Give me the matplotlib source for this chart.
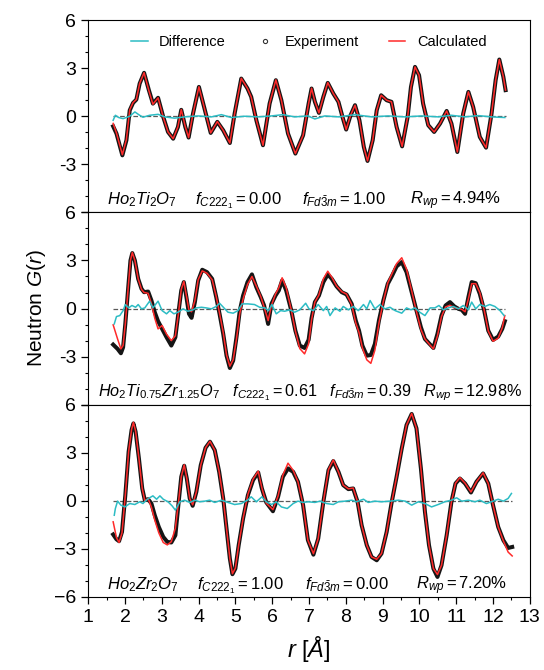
import numpy as np
import matplotlib
matplotlib.use("Agg")
import matplotlib.pyplot as plt
from matplotlib.lines import Line2D
from matplotlib.ticker import MultipleLocator

plt.rcParams['font.family'] = ['Liberation Sans', 'DejaVu Sans']
plt.rcParams['mathtext.fontset'] = 'custom'
plt.rcParams['mathtext.rm'] = 'Liberation Sans'
plt.rcParams['mathtext.it'] = 'Liberation Sans:italic'
plt.rcParams['mathtext.bf'] = 'Liberation Sans:bold'

# --- Ho2Ti2O7 (top) ---
r_top = [1.68, 1.77, 1.93, 2.04, 2.13, 2.22, 2.31, 2.40, 2.52, 2.65,
         2.76, 2.90, 3.04, 3.17, 3.31, 3.44, 3.53, 3.64, 3.73, 3.85,
         4.01, 4.15, 4.33, 4.51, 4.67, 4.85, 4.98, 5.16, 5.33, 5.43,
         5.57, 5.75, 5.93, 6.10, 6.25, 6.43, 6.63, 6.84, 6.99, 7.07,
         7.16, 7.27, 7.39, 7.51, 7.66, 7.80, 7.91, 8.01, 8.13, 8.25,
         8.37, 8.49, 8.59, 8.73, 8.84, 8.96, 9.11, 9.24, 9.38, 9.53,
         9.68, 9.77, 9.88, 9.99, 10.10, 10.24, 10.40, 10.56, 10.74, 10.87,
         11.03, 11.19, 11.33, 11.46, 11.64, 11.81, 11.96, 12.07, 12.17, 12.28,
         12.34]
g_exp_top = [-0.63, -1.08, -2.44, -1.50, 0.37, 0.83, 1.04, 2.04, 2.71, 1.63,
             0.79, 1.15, -0.04, -0.98, -1.40, -0.67, 0.40, -0.67, -1.33, 0.17,
             1.83, 0.58, -1.04, -0.35, -0.88, -1.67, 0.17, 2.35, 1.73, 1.21,
             -0.25, -1.81, 0.79, 2.25, 1.00, -1.08, -2.33, -1.19, 0.79, 1.73,
             0.90, 0.21, 1.21, 2.08, 1.42, 0.90, -0.04, -0.83, 0.06, 0.69,
             -0.25, -1.92, -2.79, -1.50, 0.37, 1.31, 1.00, 0.90, -0.67, -1.88,
             -0.04, 1.83, 3.08, 2.56, 0.79, -0.56, -0.98, -0.46, 0.33, -0.46,
             -2.23, 0.17, 1.52, 0.58, -1.29, -1.96, 0.17, 2.25, 3.54, 2.46,
             1.63]
g_calc_top = [-0.45, -1.05, -2.40, -1.45, 0.40, 0.85, 1.05, 2.05, 2.72, 1.60,
              0.75, 1.15, -0.05, -0.98, -1.40, -0.65, 0.42, -0.66, -1.33, 0.17,
              1.84, 0.58, -1.04, -0.33, -0.88, -1.67, 0.17, 2.37, 1.73, 1.20,
              -0.25, -1.81, 0.79, 2.27, 1.00, -1.08, -2.33, -1.19, 0.79, 1.75,
              0.92, 0.21, 1.21, 2.10, 1.42, 0.90, -0.04, -0.83, 0.06, 0.69,
              -0.25, -1.92, -2.79, -1.50, 0.37, 1.31, 1.00, 0.90, -0.67, -1.88,
              -0.04, 1.83, 3.08, 2.56, 0.79, -0.56, -0.98, -0.46, 0.33, -0.46,
              -2.23, 0.17, 1.52, 0.58, -1.29, -1.96, 0.17, 2.25, 3.54, 2.46,
              1.63]
r_diff_top = [1.68, 1.74, 1.83, 1.95, 2.13, 2.27, 2.40, 2.49, 2.67, 2.90,
              3.08, 3.35, 3.62, 3.99, 4.35, 4.62, 4.89, 5.25, 5.62, 5.98,
              6.29, 6.61, 6.97, 7.07, 7.16, 7.43, 7.80, 8.25, 8.70, 9.15,
              9.61, 10.06, 10.51, 10.87, 11.24, 11.60, 11.96, 12.32]
g_diff_top = [-0.25, 0.06, -0.08, -0.15, 0.00, 0.27, 0.06, -0.06, 0.06, 0.12,
              -0.04, -0.12, -0.04, 0.02, -0.04, 0.10, -0.08, 0.00, -0.04, 0.02,
              0.10, -0.04, 0.02, -0.08, -0.17, 0.02, -0.04, 0.10, -0.04, 0.02,
              -0.04, 0.02, -0.04, 0.06, -0.04, 0.04, -0.04, -0.08]

# --- Ho2Ti0.75Zr1.25O7 (middle) ---
r_mid = [1.68, 1.80, 1.89, 1.95, 2.01, 2.09, 2.15, 2.20, 2.27, 2.36,
         2.45, 2.52, 2.63, 2.72, 2.81, 2.90, 3.01, 3.13, 3.26, 3.37,
         3.46, 3.53, 3.60, 3.67, 3.74, 3.81, 3.90, 3.99, 4.10, 4.23,
         4.37, 4.48, 4.57, 4.67, 4.76, 4.85, 4.94, 5.03, 5.12, 5.21,
         5.33, 5.45, 5.57, 5.69, 5.78, 5.89, 5.98, 6.09, 6.18, 6.27,
         6.38, 6.52, 6.63, 6.75, 6.88, 6.99, 7.07, 7.16, 7.27, 7.39,
         7.51, 7.62, 7.75, 7.89, 8.02, 8.16, 8.27, 8.36, 8.45, 8.57,
         8.68, 8.79, 8.90, 9.02, 9.14, 9.26, 9.38, 9.52, 9.65, 9.79,
         9.92, 10.04, 10.15, 10.26, 10.38, 10.49, 10.60, 10.71, 10.83, 10.95,
         11.06, 11.15, 11.24, 11.33, 11.42, 11.53, 11.64, 11.76, 11.87, 12.00,
         12.14, 12.25, 12.32]
g_exp_mid = [-2.25, -2.52, -2.79, -2.42, -0.96, 1.33, 3.00, 3.46, 3.00, 1.85,
             1.23, 1.02, 1.06, 0.50, -0.23, -0.79, -1.27, -1.79, -2.31, -1.79,
             -0.13, 1.13, 1.65, 0.71, -0.33, -0.58, 0.40, 1.75, 2.42, 2.27,
             1.85, 0.71, -0.33, -1.58, -2.94, -3.71, -3.25, -1.79, -0.13, 0.81,
             1.65, 2.13, 1.33, 0.71, 0.19, -0.96, 0.29, 0.81, 1.13, 1.75,
             1.13, -0.13, -1.38, -2.31, -2.46, -1.95, -0.60, 0.40, 0.81, 1.65,
             2.13, 1.85, 1.38, 1.02, 0.88, 0.29, -0.75, -1.38, -2.31, -2.94,
             -2.90, -2.21, -0.75, 0.50, 1.54, 2.06, 2.63, 2.90, 2.27, 1.02,
             -0.13, -1.17, -1.90, -2.17, -2.46, -1.58, -0.44, 0.19, 0.40, 0.13,
             -0.02, -0.08, -0.33, 0.71, 1.65, 1.58, 0.92, -0.13, -1.38, -1.96,
             -1.75, -1.27, -0.79]
g_calc_mid = [-1.02, -1.90, -2.52, -2.30, -0.96, 1.33, 3.00, 3.50, 3.00, 1.85,
              1.20, 1.00, 0.95, 0.30, -0.60, -1.27, -1.06, -1.60, -2.00, -1.70,
              -0.20, 1.20, 1.70, 0.80, -0.10, -0.20, 0.50, 1.80, 2.35, 2.20,
              1.80, 0.75, -0.30, -1.50, -2.90, -3.60, -3.20, -1.90, -0.30, 0.60,
              1.50, 2.00, 1.40, 0.75, 0.10, -0.75, 0.20, 0.90, 1.30, 1.92,
              1.30, -0.10, -1.40, -2.50, -2.83, -2.20, -0.70, 0.40, 0.85, 1.85,
              2.33, 1.95, 1.40, 1.05, 0.90, 0.25, -0.90, -1.50, -2.45, -3.20,
              -3.42, -2.60, -0.90, 0.45, 1.60, 2.20, 2.80, 3.17, 2.45, 1.10,
              -0.20, -1.30, -1.90, -2.20, -2.52, -1.70, -0.50, 0.10, 0.20, 0.05,
              0.00, -0.05, -0.20, 0.60, 1.55, 1.55, 1.00, -0.10, -1.40, -2.04,
              -1.85, -1.20, -0.44]
r_diff_mid = [1.71, 1.77, 1.86, 1.95, 2.01, 2.10, 2.19, 2.29, 2.36, 2.45,
              2.54, 2.67, 2.76, 2.90, 3.01, 3.13, 3.22, 3.33, 3.44, 3.58,
              3.71, 3.85, 3.94, 4.08, 4.21, 4.35, 4.48, 4.57, 4.69, 4.80,
              4.94, 5.07, 5.18, 5.34, 5.52, 5.66, 5.80, 5.90, 5.99, 6.11,
              6.23, 6.34, 6.48, 6.61, 6.75, 6.91, 7.00, 7.12, 7.25, 7.39,
              7.48, 7.57, 7.71, 7.84, 7.93, 8.07, 8.20, 8.34, 8.48, 8.57,
              8.66, 8.79, 8.93, 9.06, 9.20, 9.34, 9.52, 9.65, 9.77, 9.88,
              10.01, 10.15, 10.29, 10.42, 10.53, 10.65, 10.78, 10.92, 11.06, 11.19,
              11.33, 11.42, 11.53, 11.64, 11.78, 11.91, 12.05, 12.19, 12.30]
g_diff_mid = [-0.96, -0.50, -0.44, -0.13, 0.25, 0.04, 0.19, 0.08, 0.25, -0.02,
              0.04, 0.46, 0.04, 0.46, -0.13, -0.33, -0.13, -0.33, -0.23, -0.02,
              -0.17, -0.08, 0.04, 0.08, 0.04, -0.02, 0.13, 0.33, 0.04, -0.23,
              -0.29, -0.13, 0.29, 0.29, 0.25, 0.08, 0.04, -0.13, 0.25, -0.33,
              -0.13, -0.17, -0.08, -0.23, -0.08, 0.33, -0.02, -0.13, 0.25, -0.13,
              0.13, -0.44, 0.04, -0.17, 0.13, -0.08, 0.13, -0.13, 0.25, -0.02,
              0.50, -0.02, 0.25, -0.02, 0.08, -0.13, -0.29, 0.04, -0.08, 0.04,
              -0.23, -0.44, 0.04, 0.04, 0.19, -0.08, 0.04, 0.13, -0.02, 0.19,
              -0.08, 0.40, -0.02, 0.25, 0.13, 0.25, 0.13, -0.13, -0.44]

# --- Ho2Zr2O7 (bottom) ---
r_bot = [1.68, 1.77, 1.84, 1.92, 2.01, 2.10, 2.18, 2.23, 2.29, 2.38,
         2.47, 2.54, 2.63, 2.72, 2.81, 2.92, 3.04, 3.15, 3.26, 3.37,
         3.46, 3.53, 3.61, 3.68, 3.76, 3.84, 3.94, 4.06, 4.19, 4.31,
         4.44, 4.56, 4.67, 4.76, 4.85, 4.92, 5.00, 5.09, 5.21, 5.34,
         5.48, 5.62, 5.72, 5.84, 6.02, 6.16, 6.29, 6.43, 6.57, 6.70,
         6.84, 6.97, 7.12, 7.25, 7.39, 7.53, 7.66, 7.80, 7.93, 8.07,
         8.20, 8.32, 8.43, 8.57, 8.70, 8.84, 8.97, 9.11, 9.24, 9.38,
         9.52, 9.65, 9.79, 9.92, 10.04, 10.15, 10.26, 10.38, 10.49, 10.60,
         10.74, 10.87, 10.98, 11.10, 11.24, 11.40, 11.55, 11.73, 11.87, 12.00,
         12.14, 12.28, 12.41, 12.52]
g_exp_bot = [-2.10, -2.40, -2.52, -1.94, 0.35, 3.06, 4.42, 4.83, 4.31, 2.64,
             0.77, 0.04, 0.10, -0.17, -0.90, -1.63, -2.25, -2.56, -2.60, -2.15,
             -0.06, 1.50, 2.19, 1.40, 0.15, -0.31, 0.56, 2.23, 3.31, 3.69,
             3.16, 1.81, 0.15, -1.73, -3.60, -4.58, -4.23, -2.77, -1.10, 0.35,
             1.29, 1.77, 0.77, -0.10, -0.65, 0.25, 1.50, 2.02, 1.81, 1.19,
             -0.27, -2.45, -3.36, -2.36, -0.06, 1.91, 2.48, 1.81, 0.98, 0.73,
             0.77, -0.06, -1.52, -2.77, -3.50, -3.71, -3.29, -1.94, -0.17, 1.50,
             3.27, 4.73, 5.42, 4.52, 2.02, -0.69, -2.77, -4.23, -4.75, -4.02,
             -2.15, -0.06, 1.08, 1.39, 1.08, 0.52, 1.19, 1.71, 1.08, -0.27,
             -1.63, -2.46, -2.94, -2.88]
g_calc_bot = [-1.31, -2.30, -2.60, -2.00, 0.35, 3.06, 4.45, 4.90, 4.35, 2.64,
              0.77, 0.00, 0.15, -0.40, -1.20, -2.00, -2.60, -2.75, -2.55, -1.70,
              0.00, 1.50, 2.25, 1.40, 0.15, -0.25, 0.56, 2.23, 3.31, 3.72,
              3.16, 1.81, 0.15, -1.73, -3.60, -4.55, -4.20, -2.77, -1.10, 0.40,
              1.35, 1.85, 0.80, -0.15, -0.55, 0.30, 1.60, 2.35, 1.90, 1.19,
              -0.27, -2.45, -3.30, -2.36, -0.06, 1.95, 2.55, 1.81, 0.98, 0.75,
              0.80, -0.06, -1.52, -2.77, -3.50, -3.65, -3.29, -1.94, -0.17, 1.50,
              3.27, 4.73, 5.45, 4.52, 2.02, -0.69, -2.77, -4.23, -4.60, -4.02,
              -2.15, -0.06, 1.10, 1.45, 1.10, 0.55, 1.19, 1.75, 1.08, -0.27,
              -1.63, -2.50, -3.20, -3.44]
r_diff_bot = [1.71, 1.74, 1.80, 1.89, 2.00, 2.13, 2.27, 2.40, 2.49, 2.58,
              2.67, 2.76, 2.86, 2.95, 3.04, 3.17, 3.28, 3.37, 3.49, 3.62,
              3.76, 3.90, 4.03, 4.17, 4.30, 4.44, 4.62, 4.80, 4.98, 5.16,
              5.33, 5.43, 5.57, 5.72, 5.84, 5.98, 6.11, 6.25, 6.41, 6.57,
              6.70, 6.84, 6.98, 7.16, 7.30, 7.48, 7.66, 7.80, 7.98, 8.16,
              8.29, 8.48, 8.61, 8.79, 8.97, 9.20, 9.43, 9.61, 9.79, 9.97,
              10.15, 10.33, 10.51, 10.69, 10.87, 11.01, 11.15, 11.33, 11.51, 11.64,
              11.82, 12.00, 12.14, 12.28, 12.41, 12.50]
g_diff_bot = [-0.90, -0.48, -0.02, -0.27, -0.38, -0.17, -0.23, -0.06, -0.17, 0.04,
              0.19, 0.31, 0.10, 0.31, 0.10, -0.06, -0.31, -0.58, -0.06, 0.04,
              -0.10, 0.04, -0.06, -0.02, 0.04, -0.10, 0.04, -0.10, -0.23, -0.17,
              0.04, 0.25, -0.06, 0.25, -0.06, -0.23, -0.06, -0.38, -0.48, -0.17,
              -0.02, -0.10, -0.06, -0.10, -0.02, -0.17, -0.23, -0.06, -0.02, 0.04,
              -0.06, 0.10, -0.10, -0.02, -0.06, -0.02, 0.04, -0.02, -0.27, -0.06,
              -0.17, -0.38, -0.23, -0.06, 0.04, 0.19, -0.02, 0.04, -0.06, 0.04,
              -0.17, -0.02, 0.10, -0.02, 0.15, 0.46]

compounds = [r'$Ho_2Ti_2O_7$', r'$Ho_2Ti_{0.75}Zr_{1.25}O_7$', r'$Ho_2Zr_2O_7$']
f_c2221 = ['0.00', '0.61', '1.00']
f_fd3m = ['1.00', '0.39', '0.00']
r_wp = ['4.94', '12.98', '7.20']

panels = [
    (r_top, g_exp_top, g_calc_top, r_diff_top, g_diff_top),
    (r_mid, g_exp_mid, g_calc_mid, r_diff_mid, g_diff_mid),
    (r_bot, g_exp_bot, g_calc_bot, r_diff_bot, g_diff_bot),
]
# where the annotations start in each panel (middle one is a single packed line)
text_x = [[1.52, 3.9, 6.8, 9.75],
          [1.27],
          [1.52, 3.96, 6.9, 9.9]]

fig, axes = plt.subplots(3, 1, figsize=(5.44, 6.70), dpi=100, sharex=True)
fig.subplots_adjust(left=0.162, right=0.974, top=0.970, bottom=0.109, hspace=0)

cyan = '#2cbcc4'
red = '#ff2a2a'

for i, ax in enumerate(axes):
    r, g_exp, g_calc, r_d, g_d = panels[i]
    ax.plot([r[0], r[-1]], [0, 0], ls='--', color='0.35', lw=0.9, zorder=1)
    ax.plot(r, g_exp, color='#151515', lw=2.9, solid_joinstyle='round', zorder=2)
    ax.plot(r, g_calc, color=red, lw=1.1, zorder=3)
    ax.plot(r_d, g_d, color=cyan, lw=1.1, zorder=4)

    ax.set_xlim(1, 13)
    ax.set_ylim(-6, 6)
    ax.set_yticks([-6, -3, 0, 3, 6])
    ax.yaxis.set_minor_locator(MultipleLocator(1))
    ax.xaxis.set_major_locator(MultipleLocator(1))
    ax.xaxis.set_minor_locator(MultipleLocator(0.5))
    ax.tick_params(labelsize=14, length=5, width=0.9)
    ax.tick_params(which='minor', length=2.5, width=0.8)
    if i < 2:
        ax.set_yticklabels(['', '-3', '0', '3', '6'])
        ax.tick_params(axis='x', which='both', bottom=False)

    parts = [compounds[i],
             r'$f_{C222_1} = %s$' % f_c2221[i],
             r'$f_{Fd\bar{3}m} = %s$' % f_fd3m[i],
             r'$R_{wp} = %s\%%$' % r_wp[i]]
    tx = text_x[i]
    if len(tx) == 1:
        ax.text(tx[0], -5.5, '   '.join(parts), fontsize=11.7)
    else:
        for x, s in zip(tx, parts):
            ax.text(x, -5.5, s, fontsize=12)

handles = [Line2D([], [], color=cyan, lw=1.1),
           Line2D([], [], ls='none', marker='o', ms=3, mfc='white', mec='0.2', mew=0.8),
           Line2D([], [], color=red, lw=1.1)]
axes[0].legend(handles, ['Difference', 'Experiment', 'Calculated'], loc='upper center',
               ncol=3, frameon=False, fontsize=10.5, handlelength=1.1,
               columnspacing=2.1, bbox_to_anchor=(0.5, 0.99))

axes[1].set_ylabel(r'Neutron $G(r)$', fontsize=15, labelpad=8)
axes[2].set_xlabel(r'$r\ [Å]$', fontsize=17, labelpad=6)

fig.savefig('out.png', dpi=100)
